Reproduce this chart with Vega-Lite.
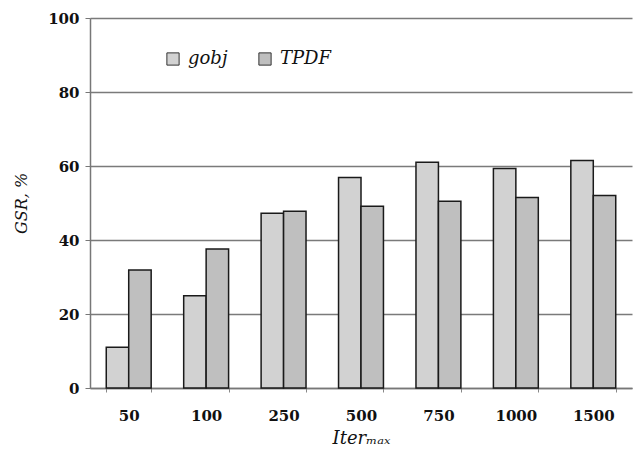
{
  "$schema": "https://vega.github.io/schema/vega-lite/v6.json",
  "width": 542,
  "height": 370,
  "autosize": {"type": "none"},
  "padding": {"left": 90, "top": 18, "right": 2, "bottom": 74},
  "background": "white",
  "data": {"values": [
    {"iter": "50", "series": "gobj", "gsr": 11.0},
    {"iter": "50", "series": "TPDF", "gsr": 31.9},
    {"iter": "100", "series": "gobj", "gsr": 24.9},
    {"iter": "100", "series": "TPDF", "gsr": 37.6},
    {"iter": "250", "series": "gobj", "gsr": 47.2},
    {"iter": "250", "series": "TPDF", "gsr": 47.8},
    {"iter": "500", "series": "gobj", "gsr": 56.9},
    {"iter": "500", "series": "TPDF", "gsr": 49.1},
    {"iter": "750", "series": "gobj", "gsr": 61.0},
    {"iter": "750", "series": "TPDF", "gsr": 50.5},
    {"iter": "1000", "series": "gobj", "gsr": 59.3},
    {"iter": "1000", "series": "TPDF", "gsr": 51.5},
    {"iter": "1500", "series": "gobj", "gsr": 61.5},
    {"iter": "1500", "series": "TPDF", "gsr": 52.0}
  ]},
  "mark": {"type": "bar", "stroke": "#1a1a1a", "strokeWidth": 1.5},
  "encoding": {
    "x": {
      "field": "iter", "type": "nominal", "sort": null,
      "scale": {"paddingInner": 0.42, "paddingOuter": 0.21},
      "axis": {
        "title": "Iterₘₐₓ",
        "titleFont": "DejaVu Serif", "titleFontSize": 18, "titleFontStyle": "italic", "titleFontWeight": "normal",
        "titleColor": "#111", "titlePadding": 6,
        "labelFont": "DejaVu Serif", "labelFontSize": 15, "labelFontWeight": "bold", "labelColor": "#111",
        "labelPadding": 16, "labelAngle": 0,
        "tickBand": "extent", "tickColor": "#888", "tickSize": 4,
        "domainColor": "#777", "domainWidth": 1.5
      }
    },
    "xOffset": {"field": "series", "type": "nominal", "sort": ["gobj", "TPDF"], "scale": {"paddingInner": 0}},
    "y": {
      "field": "gsr", "type": "quantitative",
      "scale": {"domain": [0, 100]},
      "axis": {
        "values": [0, 20, 40, 60, 80, 100],
        "title": "GSR, %",
        "titleFont": "DejaVu Serif", "titleFontSize": 16, "titleFontStyle": "italic", "titleFontWeight": "normal",
        "titleColor": "#111", "titlePadding": 18,
        "labelFont": "DejaVu Serif", "labelFontSize": 15, "labelFontWeight": "bold", "labelColor": "#111",
        "labelPadding": 6,
        "gridColor": "#7a7a7a", "gridWidth": 1.5,
        "tickColor": "#777", "tickSize": 5,
        "domainColor": "#777", "domainWidth": 1.5
      }
    },
    "fill": {
      "field": "series", "type": "nominal",
      "scale": {"domain": ["gobj", "TPDF"], "range": ["#d2d2d2", "#bfbfbf"]},
      "legend": {
        "title": null, "orient": "none", "direction": "horizontal",
        "legendX": 74, "legendY": 32,
        "symbolType": "square", "symbolSize": 150, "symbolStrokeColor": "#333", "symbolStrokeWidth": 1,
        "labelFont": "DejaVu Serif", "labelFontSize": 18, "labelFontStyle": "italic", "labelColor": "#111",
        "columnPadding": 28, "labelOffset": 6
      }
    }
  },
  "config": {"view": {"stroke": null}}
}
